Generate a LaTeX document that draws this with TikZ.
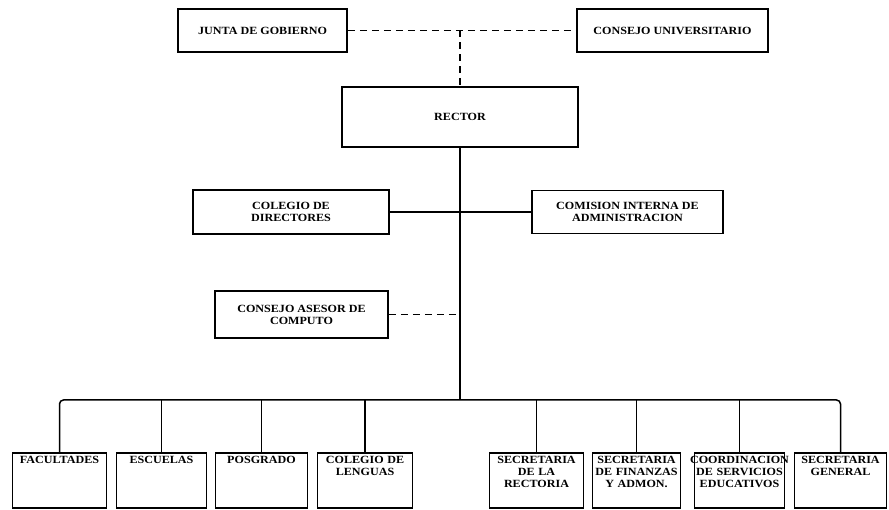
\documentclass[tikz,border=0pt]{standalone}
\usepackage{fontspec}
\setmainfont{Liberation Serif}[FakeStretch=1.1]

\begin{document}
\begin{tikzpicture}[x=1pt, y=-1pt,
    unit/.style={draw, line width=1.5pt, align=center, inner sep=2pt,
      font=\bfseries\fontsize{11}{12}\selectfont},
    dependencia/.style={unit, text width=#1, inner ysep=3pt, text height=8pt, text depth=41pt},
    link/.style={line width=1.5pt},
    linkdash/.style={line width=1.5pt, dash pattern=on 7pt off 5pt}]
  \useasboundingbox (0,0) rectangle (889,510);

  % Organos de gobierno
  \node[unit, minimum width=169pt, minimum height=43pt] (junta) at (262.5,30.5) {JUNTA DE GOBIERNO};
  \node[unit, minimum width=191pt, minimum height=43pt] (consejo) at (672.5,30.5) {CONSEJO UNIVERSITARIO};
  \node[unit, minimum width=236pt, minimum height=60pt] (rector) at (460,117) {RECTOR};

  % Organos de apoyo
  \node[unit, minimum width=196pt, minimum height=44pt] (colegio) at (291,212) {COLEGIO DE\\DIRECTORES};
  \node[unit, minimum width=191pt, minimum height=43pt] (comision) at (627.5,212) {COMISION INTERNA DE\\ADMINISTRACION};
  \node[unit, minimum width=173pt, minimum height=47pt] (asesor) at (301.5,314.5) {CONSEJO ASESOR DE\\COMPUTO};

  % Dependencias
  \node[dependencia=90pt] (fac) at (59.5,480.5) {FACULTADES};
  \node[dependencia=86pt] (esc) at (161.5,480.5) {ESCUELAS};
  \node[dependencia=88pt] (pos) at (261.5,480.5) {POSGRADO};
  \node[dependencia=91pt] (len) at (365,480.5) {COLEGIO DE\\LENGUAS};
  \node[dependencia=90pt] (srec) at (536.5,480.5) {SECRETARIA\\DE LA\\RECTORIA};
  \node[dependencia=84pt] (sfin) at (636.5,480.5) {SECRETARIA\\\makebox[\linewidth]{DE FINANZAS}\\Y ADMON.};
  \node[dependencia=86pt] (coord) at (739.5,480.5) {\makebox[\linewidth]{COORDINACION}\\\makebox[\linewidth]{DE SERVICIOS}\\EDUCATIVOS};
  \node[dependencia=88pt] (sgen) at (840.5,480.5) {SECRETARIA\\GENERAL};

  % Lineas de autoridad
  \coordinate (enlace) at (rector.north |- junta.east);
  \coordinate (bus) at (460,400);
  \draw[linkdash] (junta.east) -- (consejo.west);
  \draw[linkdash] (enlace) -- (rector.north);
  \draw[link] (rector.south) -- (bus);
  \draw[link] (colegio.east) -- (comision.west);
  \draw[linkdash] (asesor.east) -- (asesor.east -| rector.south);
  \draw[link, rounded corners=4pt] (fac.north) |- (bus) -| (sgen.north);
  \draw[link] (esc.north) -- (esc.north |- bus);
  \draw[link] (pos.north) -- (pos.north |- bus);
  \draw[link] (len.north) -- (len.north |- bus);
  \draw[link] (srec.north) -- (srec.north |- bus);
  \draw[link] (sfin.north) -- (sfin.north |- bus);
  \draw[link] (coord.north) -- (coord.north |- bus);
\end{tikzpicture}
\end{document}
